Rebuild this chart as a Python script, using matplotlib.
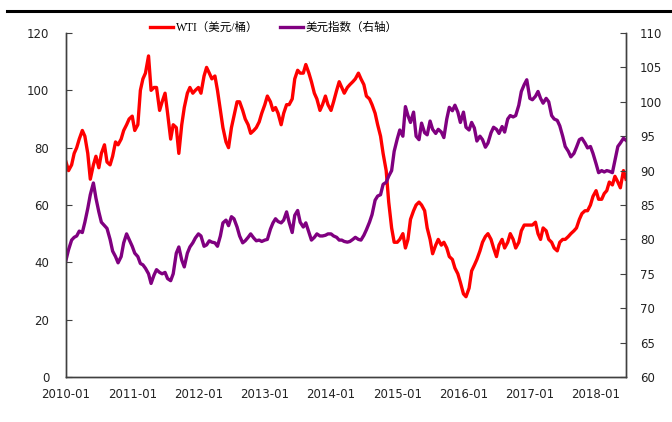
import numpy as np
import pandas as pd
import matplotlib
matplotlib.use("Agg")
import matplotlib.pyplot as plt
import matplotlib.dates as mdates
from matplotlib.lines import Line2D

# semi-monthly readings, 2010-01 .. 2018-06
wti = [
    # 2010
    75, 72, 74, 78, 80, 83, 86, 84, 78, 69, 74, 77,
    73, 78, 81, 75, 74, 77, 82, 81, 83, 86, 88, 90,
    # 2011
    91, 86, 88, 100, 104, 106, 112, 100, 101, 101, 93, 96,
    99, 92, 83, 88, 87, 78, 88, 94, 99, 101, 99, 100,
    # 2012
    101, 99, 105, 108, 106, 104, 105, 100, 93, 87, 82, 80,
    87, 91, 96, 96, 93, 90, 88, 85, 86, 87, 89, 92,
    # 2013
    95, 98, 96, 93, 94, 92, 88, 92, 95, 95, 97, 104,
    107, 106, 106, 109, 106, 103, 99, 97, 93, 95, 98, 95,
    # 2014
    93, 96, 100, 103, 101, 99, 101, 102, 103, 104, 106, 104,
    102, 98, 97, 95, 92, 88, 84, 78, 72, 61, 52, 47,
    # 2015
    47, 48, 50, 45, 48, 55, 58, 60, 61, 60, 58, 52,
    48, 43, 46, 48, 46, 47, 45, 42, 41, 38, 36, 33,
    # 2016
    29, 28, 31, 37, 39, 41, 44, 47, 49, 50, 48, 45,
    42, 46, 48, 45, 47, 50, 48, 45, 47, 51, 53, 53,
    # 2017
    53, 53, 54, 50, 48, 52, 51, 48, 47, 45, 44, 47,
    48, 48, 49, 50, 51, 52, 55, 57, 58, 58, 60, 63,
    # 2018
    65, 62, 62, 64, 65, 68, 67, 70, 68, 66, 72, 69,
]

usd_index = [
    # 2010
    77.0, 78.5, 79.9, 80.3, 80.5, 81.2, 81.0, 82.5, 84.5, 86.5, 88.2, 86.0,
    84.0, 82.5, 82.0, 81.6, 80.0, 78.3, 77.5, 76.6, 77.5, 79.5, 80.8, 80.0,
    # 2011
    79.0, 78.0, 77.5, 76.5, 76.3, 75.8, 75.0, 73.6, 74.8, 75.6, 75.2, 75.0,
    75.2, 74.3, 74.0, 75.0, 78.0, 78.9, 77.0, 76.0, 78.0, 78.9, 79.5, 80.2,
    # 2012
    80.8, 80.5, 79.0, 79.2, 79.8, 79.6, 79.5, 79.0, 80.5, 82.4, 82.8, 82.0,
    83.3, 83.0, 81.8, 80.5, 79.5, 79.8, 80.3, 80.8, 80.2, 79.8, 79.9, 79.7,
    # 2013
    79.9, 80.0, 81.5, 82.4, 83.0, 82.6, 82.4, 82.8, 84.0, 82.5, 81.0, 83.5,
    84.2, 82.5, 81.8, 82.4, 81.0, 79.9, 80.3, 80.8, 80.5, 80.5, 80.6, 80.8,
    # 2014
    80.8, 80.5, 80.3, 79.9, 79.9, 79.7, 79.6, 79.7, 80.0, 80.3, 80.0, 79.9,
    80.6, 81.4, 82.5, 83.6, 85.7, 86.3, 86.5, 88.0, 88.3, 89.2, 90.0, 92.8,
    # 2015
    94.6, 95.9, 95.0, 99.3, 98.0, 97.0, 98.5, 95.0, 94.5, 96.9, 95.5, 95.2,
    97.2, 96.0, 95.4, 96.0, 95.6, 94.8, 97.5, 99.2, 98.7, 99.5, 98.5, 97.0,
    # 2016
    98.5, 96.3, 95.9, 97.0, 96.2, 94.3, 95.0, 94.5, 93.4, 94.0, 95.5, 96.3,
    96.0, 95.4, 96.4, 95.6, 97.5, 98.0, 97.8, 98.0, 99.5, 101.5, 102.5, 103.2,
    # 2017
    100.5, 100.3, 100.8, 101.5, 100.5, 99.8, 100.5, 100.0, 98.0, 97.5, 97.3, 96.5,
    95.0, 93.5, 92.8, 92.0, 92.5, 93.4, 94.5, 94.7, 94.0, 93.3, 93.5, 92.5,
    # 2018
    91.0, 89.7, 90.0, 89.8, 90.0, 89.9, 89.7, 91.5, 93.5, 94.0, 94.7, 94.4,
]

dates = pd.date_range("2010-01-01", periods=len(wti), freq="SMS")

plt.rcParams["font.family"] = ["DejaVu Sans"]
plt.rcParams["axes.linewidth"] = 1.0

fig = plt.figure(figsize=(6.72, 4.22), dpi=100)
ax = fig.add_axes([66 / 672, 1 - 377 / 422, 560 / 672, 344 / 422])
ax2 = ax.twinx()

l1, = ax.plot(dates, wti, color="#ff0000", lw=2.4, label="WTI（美元/桶）")
l2, = ax2.plot(dates, usd_index, color="#800080", lw=2.4, label="美元指数（右轴）")

ax.set_xlim(pd.Timestamp("2010-01-01"), dates[-1])
ax.set_ylim(0, 120)
ax.set_yticks(range(0, 121, 20))
ax2.set_ylim(60, 110)
ax2.set_yticks(range(60, 111, 5))

ax.xaxis.set_major_locator(mdates.YearLocator())
ax.xaxis.set_major_formatter(mdates.DateFormatter("%Y-%m"))

for a in (ax, ax2):
    a.spines["top"].set_visible(False)
    for s in ("left", "right", "bottom"):
        a.spines[s].set_color("#404040")
ax.tick_params(axis="x", length=0, pad=8, labelsize=8.5, colors="#222222")
ax.tick_params(axis="y", direction="in", length=4, pad=12, labelsize=8.5,
               colors="#222222", color="#404040")
ax2.tick_params(axis="y", direction="in", length=4, pad=10, labelsize=8.5,
                colors="#222222", color="#404040")

fig.legend(handles=[l1, l2], loc="center", bbox_to_anchor=(274 / 672, 1 - 28 / 422),
           ncol=2, frameon=False, handlelength=2.0, columnspacing=1.9,
           handletextpad=0.2,
           prop={"family": ["Liberation Serif", "Noto Sans CJK SC"], "size": 8.3})

# heavy rule across the top of the figure
fig.add_artist(Line2D([7 / 672, 1.0], [1 - 11 / 422, 1 - 11 / 422],
                      color="black", lw=2.2, transform=fig.transFigure))

fig.savefig("out.png", dpi=100)
